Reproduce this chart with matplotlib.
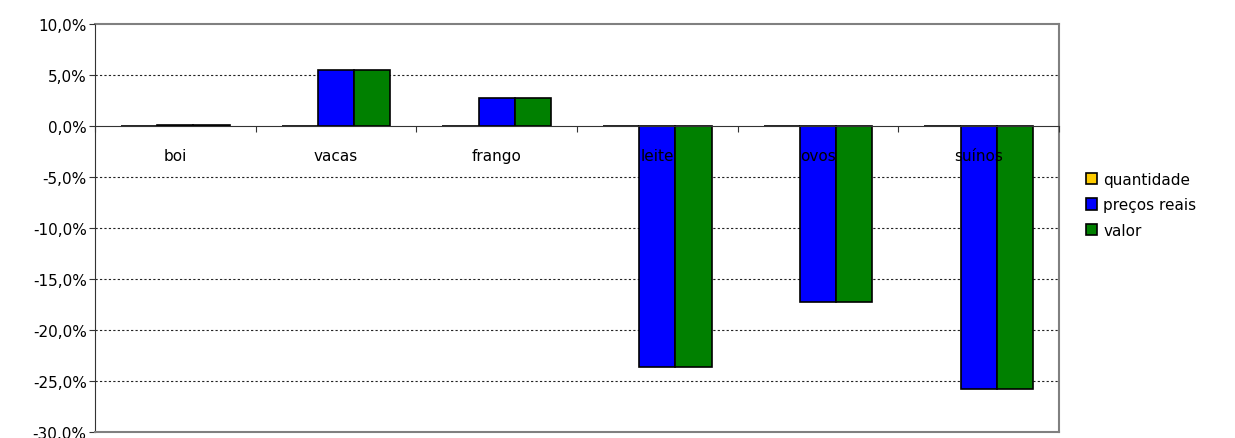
import numpy as np
import matplotlib.pyplot as plt
from matplotlib.patches import Patch
from matplotlib.ticker import FuncFormatter

categorias = ["boi", "vacas", "frango", "leite", "ovos", "suínos"]
quantidade = [0.0, 0.0, 0.0, 0.0, 0.0, 0.0]
precos_reais = [0.1, 5.5, 2.7, -23.6, -17.3, -25.8]
valor = [0.1, 5.5, 2.7, -23.6, -17.3, -25.8]
series = ["quantidade", "preços reais", "valor"]
cores = ["#FFCC00", "#0000FF", "#008000"]

plt.rcParams['font.family'] = ['DejaVu Sans']

fig = plt.figure(figsize=(12.35, 4.39), dpi=100)
ax = fig.add_axes([0.0769, 0.0137, 0.7806, 0.9293])

x = np.arange(len(categorias))
largura = 0.225
for k, (dados, cor) in enumerate(zip([quantidade, precos_reais, valor], cores)):
    ax.bar(x + (k - 1) * largura, dados, largura, color=cor,
           edgecolor='black', linewidth=1.2, zorder=2)

ax.set_xlim(-0.5, len(categorias) - 0.5)
ax.set_ylim(-30, 10)
niveis = np.arange(-30, 10.1, 5)
ax.set_yticks(niveis)
ax.yaxis.set_major_formatter(FuncFormatter(lambda v, p: f"{v:.1f}%".replace('.', ',')))
ax.tick_params(axis='y', labelsize=11, length=4, color='#333333', pad=2)

# linhas de grade pontilhadas por baixo das barras
for v in niveis[1:-1]:
    if v != 0:
        ax.axhline(v, color='#222222', linestyle=(0, (2, 2)), linewidth=0.8, zorder=1)

# eixo x passa pelo zero, marcas entre as categorias; rótulos por cima das barras
ax.set_axisbelow(False)
ax.spines['bottom'].set_position(('data', 0))
ax.spines['bottom'].set_color('#333333')
ax.set_xticks(np.arange(-0.5, len(categorias), 1.0))
ax.set_xticklabels([])
ax.set_xticks(x, minor=True)
ax.set_xticklabels(categorias, minor=True)
ax.tick_params(axis='x', which='major', length=4, direction='out', color='#333333')
ax.tick_params(axis='x', which='minor', length=0, labelsize=11, pad=16)

ax.spines['left'].set_color('#333333')
for lado in ['top', 'right']:
    ax.spines[lado].set_color('#808080')
    ax.spines[lado].set_linewidth(1.5)
ax.axhline(-30, color='#808080', linewidth=1.5, clip_on=False, zorder=4)

handles = [Patch(facecolor=c, edgecolor='black', linewidth=1.2) for c in cores]
fig.legend(handles, series, loc='center left', bbox_to_anchor=(0.868, 0.531),
           frameon=False, fontsize=11, handlelength=0.75, handleheight=0.75,
           handletextpad=0.4, labelspacing=0.7)

fig.savefig("out.png", dpi=100)
